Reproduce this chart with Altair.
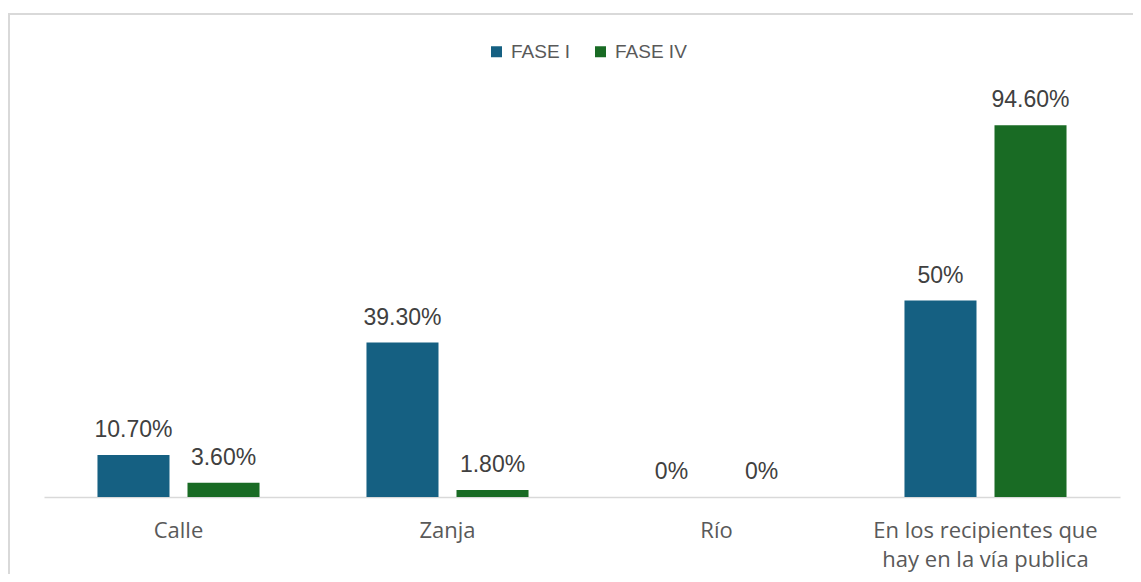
import altair as alt
import pandas as pd

categories = ["Calle", "Zanja", "Río", "En los recipientes que|hay en la vía publica"]
series = ["FASE I", "FASE IV"]
fase1 = [10.7, 39.3, 0, 50]
fase4 = [3.6, 1.8, 0, 94.6]
labels1 = ["10.70%", "39.30%", "0%", "50%"]
labels4 = ["3.60%", "1.80%", "0%", "94.60%"]

rows = []
for c, v, l in zip(categories, fase1, labels1):
    rows.append({"cat": c, "serie": series[0], "val": v, "lab": l})
for c, v, l in zip(categories, fase4, labels4):
    rows.append({"cat": c, "serie": series[1], "val": v, "lab": l})
df = pd.DataFrame(rows)

W, H = 1076, 393
colors = ["#156082", "#196B24"]

x = alt.X("cat:N", sort=categories,
          scale=alt.Scale(paddingInner=0, paddingOuter=0),
          axis=alt.Axis(title=None, labelAngle=0, ticks=False, domain=True,
                        domainColor="#d9d9d9", domainWidth=1.5, labelLimit=0,
                        labelFont="Open Sans", labelFontSize=22, labelColor="#595959",
                        labelPadding=23, labelLineHeight=29,
                        labelExpr="split(datum.label, '|')"))
xo = alt.XOffset("serie:N", sort=series,
                 scale=alt.Scale(paddingInner=0.2, paddingOuter=0.594))
y = alt.Y("val:Q", scale=alt.Scale(domain=[0, 100]), axis=None)

bars = alt.Chart(df).mark_bar().encode(
    x=x, xOffset=xo, y=y,
    color=alt.Color("serie:N", sort=series,
                    scale=alt.Scale(domain=series, range=colors),
                    legend=alt.Legend(title=None, orient="none", direction="horizontal",
                                      legendX=443, legendY=-62,
                                      symbolType="square", symbolSize=121,
                                      symbolStrokeWidth=0,
                                      labelFont="Liberation Sans", labelFontSize=19,
                                      labelColor="#595959", columnPadding=20,
                                      labelOffset=5)),
)

text = alt.Chart(df).mark_text(baseline="alphabetic", dy=-18, font="Liberation Sans",
                               fontSize=23, color="#404040").encode(
    x=x, xOffset=xo, y=y, text="lab:N"
)

border = alt.Chart(df).mark_rect(fill=None, stroke="#d9d9d9", strokeWidth=2,
                                 clip=False).encode(
    x=alt.value(-35), x2=alt.value(1200), y=alt.value(-90), y2=alt.value(600)
)

chart = alt.layer(border, bars, text).properties(
    width=W, height=H,
    autosize=alt.AutoSizeParams(type="none"),
    padding={"left": 36, "top": 96, "right": 13, "bottom": 77},
).configure(background="white").configure_view(strokeWidth=0)

chart.save("out.html", embed_options={"renderer": "svg", "actions": False})
